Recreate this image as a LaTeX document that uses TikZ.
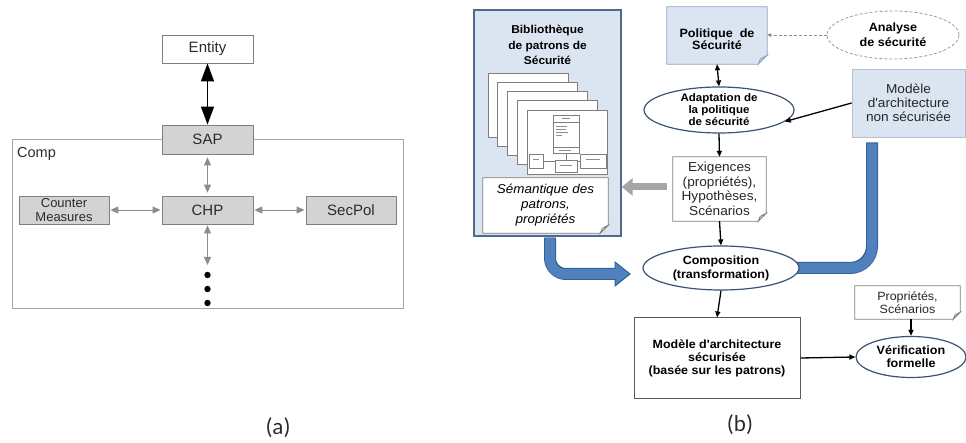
\documentclass[tikz,border=0pt]{standalone}
\usepackage{fontspec}
\setmainfont{Liberation Sans}
\newfontfamily\bfam[FakeStretch=1.05]{Liberation Sans}
\newfontfamily\labfam{Carlito}
\usetikzlibrary{arrows.meta,shapes.geometric}
\pgfdeclarelayer{l0}\pgfdeclarelayer{l1}\pgfsetlayers{l0,l1,main}
\definecolor{lblue}{HTML}{DBE5F1}
\definecolor{libborder}{HTML}{4F6A8F}
\definecolor{polborder}{HTML}{8FA3BF}
\definecolor{modnborder}{HTML}{B4C0D0}
\definecolor{docborder}{HTML}{7F7F7F}
\definecolor{ellc}{HTML}{3C5274}
\definecolor{bandf}{HTML}{4F81BD}
\definecolor{bandb}{HTML}{2F5F95}
\definecolor{arrg}{HTML}{8C8C8C}
\definecolor{boxgrey}{HTML}{D3D3D3}
\definecolor{boxborder}{HTML}{7F7F7F}
\definecolor{compc}{HTML}{A6A6A6}
\definecolor{atext}{HTML}{2B2B2B}
\definecolor{greyarr}{HTML}{A6A6A6}
\definecolor{foldc}{HTML}{E6E6E6}
\definecolor{foldb}{HTML}{C5D3E6}
\newcommand\fsz[2]{\fontsize{#1}{#2}\selectfont}
\newcommand\docframe[4]{%
\begin{pgfonlayer}{l1}
\draw[#2] (#1.north west) -- (#1.north east) -- ([yshift=#3]#1.south east) -- ([xshift=-#3]#1.south east) -- (#1.south west) -- cycle;
\draw[#2, fill=#4] ([yshift=#3]#1.south east) -- ([xshift=-0.75*#3, yshift=0.6*#3]#1.south east) -- ([xshift=-#3]#1.south east) -- cycle;
\end{pgfonlayer}}
\begin{document}
\begin{tikzpicture}[x=1pt,y=-1pt,
  gbox/.style={draw=boxborder, fill=boxgrey, line width=0.8pt, minimum width=91pt, minimum height=28pt, inner sep=0pt, text=atext, font=\fsz{15}{17}},
  wbox/.style={gbox, fill=white},
  garrow/.style={draw=arrg, line width=0.9pt, {Triangle[length=8pt,width=7pt]}-{Triangle[length=8pt,width=7pt]}},
  bigarrow/.style={draw=black, line width=1.3pt, {Triangle[length=18pt,width=13pt]}-{Triangle[length=18pt,width=13pt]}},
  dotn/.style={circle, fill=black, inner sep=0pt, minimum size=6.4pt},
  barrow/.style={line width=1.3pt, -{Triangle[length=6pt,width=5pt]}},
  bdarrow/.style={line width=1.3pt, {Triangle[length=6pt,width=5pt]}-{Triangle[length=6pt,width=5pt]}},
  ell/.style={ellipse, draw=ellc, line width=1.2pt, fill=white, inner sep=0pt},
  txtn/.style={inner sep=0pt, align=center, text=black},
  page/.style={draw=docborder, fill=white, line width=0.6pt},
  mini/.style={draw=docborder, line width=0.4pt, fill=white},
  scrib/.style={draw=black!45, line width=0.4pt}
]
\useasboundingbox (0,0) rectangle (966,443);
% ---------------- (a) ----------------
\node[draw=compc, line width=1pt, minimum width=391pt, minimum height=169pt, inner sep=0pt] (compbox) at (207.5,224.5) {};
\node[anchor=west, inner sep=0pt, font=\fsz{14.5}{16}, text=atext] (complab) at (17,153.5) {Comp};
\node[wbox] (entity) at (207.5,49) {Entity};
\node[gbox, minimum height=29pt] (sap) at (207.5,139.5) {SAP};
\node[gbox] (chp) at (207.5,210) {CHP};
\node[gbox, minimum width=90pt, align=center, font=\fsz{13}{14}] (cm) at (64,210) {Counter\\Measures};
\node[gbox, minimum width=90pt] (secpol) at (351,210) {SecPol};
\coordinate (chpend) at (207.5,265);
\node[dotn] (d1) at (207.5,275) {};
\node[dotn] (d2) at (207.5,289) {};
\node[dotn] (d3) at (207.5,303) {};
\draw[bigarrow] (entity) -- (sap);
\draw[garrow, shorten <=3pt, shorten >=3pt] (sap) -- (chp);
\draw[garrow, shorten <=1pt, shorten >=1pt] (cm) -- (chp);
\draw[garrow, shorten <=1pt, shorten >=1pt] (chp) -- (secpol);
\draw[garrow, shorten <=1pt] (chp) -- (chpend);
\node[inner sep=0pt, font=\labfam\fsz{23}{25}, text=atext] (laba) at (278,428) {(a)};
% ---------------- (b) ----------------
\begin{pgfonlayer}{l0}
\node[draw=libborder, fill=lblue, line width=1.3pt, minimum width=147pt, minimum height=226pt, inner sep=0pt] (lib) at (547.5,123) {};
\foreach \i in {0,...,4} {
  \draw[page] ({488+9.75*\i},{73+9.25*\i}) rectangle ++(80,64);
}
% miniature pattern diagram on the front page
\draw[mini] (553,115) rectangle (579,153);
\draw[mini] (553,122) -- (579,122) (553,147) -- (579,147);
\draw[scrib] (562,118.5) -- (570,118.5);
\draw[scrib] (556,126) -- (567,126) (556,129) -- (566,129) (556,132) -- (568,132) (556,135) -- (562,135);
\draw[scrib] (559,150) -- (571,150);
\draw[mini] (566,153) -- (566,160);
\draw[mini] (543,161) -- (580,161);
\draw[mini] (529,154) rectangle (543,168);
\draw[mini] (580,154) rectangle (606,168);
\draw[mini, line width=0.7pt] (555,160) rectangle (577,172);
\draw[scrib] (533,159) -- (539,159) (586,159) -- (600,159) (560,165) -- (572,165);
\end{pgfonlayer}
\node[txtn, font=\bfam\bfseries\fsz{11.4}{15.8}] (libt) at (547.5,45) {Bibliothèque\\de patrons de\\Sécurité};
\node[txtn, minimum width=125pt, minimum height=55pt, font=\bfam\itshape\fsz{12.8}{15}] (sem) at (545.5,205.5) {Sémantique des\\patrons,\\propriétés};
\docframe{sem}{draw=docborder, line width=0.8pt, fill=white}{8pt}{foldc}
\node[txtn, minimum width=100pt, minimum height=57pt, font=\bfam\bfseries\fsz{12}{12.5}] (pol) at (717,35.5) {\rule{0pt}{16pt}Politique\ \ de\\Sécurité};
\docframe{pol}{draw=polborder, line width=0.8pt, fill=lblue}{9pt}{foldb}
\node[ell, draw=black!40, fill=none, dashed, dash pattern=on 3pt off 2pt, line width=0.8pt, minimum width=132pt, minimum height=48pt, align=center, font=\bfam\bfseries\fsz{12}{15}] (ana) at (893,35) {Analyse\\de sécurité};
\node[ell, minimum width=150pt, minimum height=46pt, align=center, font=\bfam\bfseries\fsz{11}{12}] (adapt) at (719,110) {Adaptation de\\la politique\\de sécurité};
\node[txtn, draw=modnborder, fill=lblue, line width=0.8pt, minimum width=113pt, minimum height=68pt, font=\bfam\fsz{13}{14}, text=black!85] (modn) at (908.5,103) {Modèle\\d'architecture\\non sécurisée};
\node[txtn, minimum width=93pt, minimum height=64pt, font=\bfam\fsz{13}{14.5}, text=black!85] (exig) at (719.5,189) {Exigences\\(propriétés),\\Hypothèses,\\Scénarios};
\docframe{exig}{draw=docborder, line width=0.8pt, fill=white}{8pt}{foldc}
\node[ell, minimum width=156pt, minimum height=44pt, align=center, font=\bfam\bfseries\fsz{11.9}{14}] (comp) at (721,268) {Composition\\(transformation)};
\node[txtn, draw=black!65, line width=1pt, fill=white, minimum width=166pt, minimum height=80pt, font=\bfam\bfseries\fsz{11.9}{13}] (msec) at (717,358) {Modèle d'architecture\\sécurisée\\(basée sur les patrons)};
\node[txtn, minimum width=105pt, minimum height=33pt, font=\bfam\fsz{11.9}{13}, text=black!85] (prop) at (907.5,302.5) {Propriétés,\\Scénarios};
\docframe{prop}{draw=docborder, line width=0.8pt, fill=white}{7pt}{foldc}
\node[ell, minimum width=110pt, minimum height=41pt, align=center, font=\bfam\bfseries\fsz{12}{13}] (ver) at (911,357) {Vérification\\formelle};
% thick blue arrows
\coordinate (lhead) at (615,274);
\begin{pgfonlayer}{l1}
\draw[line width=12pt, color=bandb, rounded corners=16pt] ([xshift=2.5pt,yshift=-1pt]lib.south) |- (lhead);
\filldraw[fill=bandf, draw=bandb, line width=1pt] (615,262) -- (630,274) -- (615,286) -- cycle;
\draw[line width=10pt, color=bandf, rounded corners=15pt] ([xshift=2.5pt,yshift=-1pt]lib.south) |- ([xshift=1.5pt]lhead);
\draw[line width=12pt, color=bandb, rounded corners=22pt] ([xshift=-36.5pt,yshift=-5pt]modn.south) |- ([xshift=-4pt]comp.east);
\draw[line width=10pt, color=bandf, rounded corners=21pt] ([xshift=-36.5pt,yshift=-6pt]modn.south) |- ([xshift=-4pt]comp.east);
\end{pgfonlayer}
% grey arrow
\coordinate (gstart) at (667,187);
\draw[color=greyarr, line width=7pt, -{Triangle[length=11pt,width=17pt]}] (gstart) -- (gstart -| lib.east);
% black arrows
\draw[line width=0.8pt, draw=black!45, dashed, dash pattern=on 3pt off 2pt, -{Triangle[length=4pt,width=3.5pt]}] (ana.west) -- (ana.west -| pol.east);
\draw[bdarrow] (pol.south) -- (adapt.north);
\draw[barrow] (modn.west) -- (adapt.-10);
\draw[barrow] (adapt.south) -- (exig.north);
\draw[barrow] (exig.south) -- (comp.north);
\draw[barrow] (comp.south) -- (msec.north);
\draw[barrow] (msec.east) -- (ver.west);
\draw[barrow] (prop.south -| ver.north) -- (ver.north);
\node[inner sep=0pt, font=\labfam\fsz{23}{25}, text=atext] (labb) at (740,425) {(b)};
\end{tikzpicture}
\end{document}
